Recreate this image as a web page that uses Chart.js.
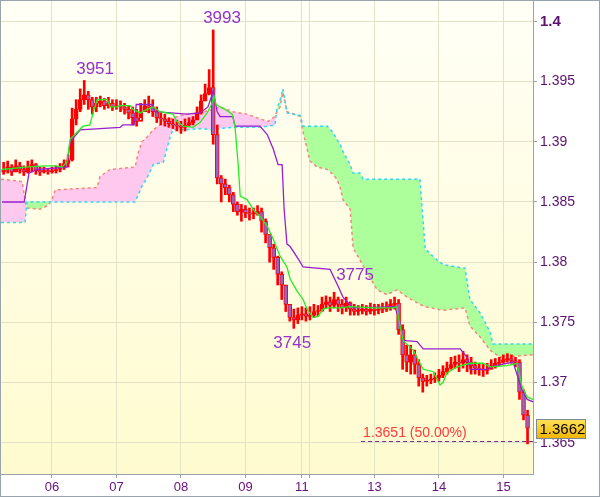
<!DOCTYPE html>
<html>
<head>
<meta charset="utf-8">
<script src="https://cdn.jsdelivr.net/npm/chart.js@4"></script>
<style>
  html, body { margin: 0; padding: 0; background: #fff; }
  canvas { display: block; }
</style>
</head>
<body>
<canvas id="ichimoku-chart" width="600" height="497"></canvas>
<script>
// hourly-ish candles, one per bar index
const firstOpen = 1.3875;
const closes = [
  1.3877,1.3879,1.3875,1.3880,1.3877,1.3875,1.3879,1.3881,1.3876,1.3875,
  1.3876,1.3875,1.3876,1.3877,1.3879,1.3882,1.3885,1.3919,1.3927,1.3935,
  1.3939,1.3935,1.3929,1.3932,1.3934,1.3930,1.3932,1.3929,1.3930,1.3929,
  1.3927,1.3924,1.3920,1.3917,1.3925,1.3930,1.3929,1.3925,1.3920,1.3919,
  1.3917,1.3915,1.3914,1.3913,1.3912,1.3914,1.3916,1.3918,1.3924,1.3934,
  1.3940,1.3945,1.3906,1.3870,1.3865,1.3862,1.3856,1.3848,1.3842,1.3844,
  1.3841,1.3840,1.3840,1.3842,1.3834,1.3823,1.3812,1.3804,1.3790,1.3781,
  1.3765,1.3754,1.3752,1.3756,1.3757,1.3755,1.3756,1.3759,1.3759,1.3765,
  1.3767,1.3764,1.3769,1.3765,1.3762,1.3766,1.3761,1.3759,1.3760,1.3761,
  1.3759,1.3761,1.3760,1.3761,1.3761,1.3762,1.3765,1.3766,1.3744,1.3723,
  1.3717,1.3723,1.3715,1.3704,1.3701,1.3702,1.3703,1.3704,1.3706,1.3709,
  1.3712,1.3715,1.3717,1.3716,1.3719,1.3717,1.3714,1.3712,1.3711,1.3710,
  1.3711,1.3714,1.3716,1.3717,1.3719,1.3720,1.3718,1.3717,1.3692,1.3673,
  1.3662
];
const highs = [
  1.3883,1.3884,1.3881,1.3885,1.3883,1.3880,1.3884,1.3885,1.3882,1.3879,
  1.3879,1.3878,1.3879,1.3880,1.3882,1.3885,1.3889,1.3928,1.3935,1.3944,
  1.3951,1.3942,1.3937,1.3937,1.3938,1.3936,1.3937,1.3935,1.3935,1.3934,
  1.3932,1.3930,1.3929,1.3927,1.3932,1.3935,1.3938,1.3935,1.3929,1.3924,
  1.3923,1.3920,1.3919,1.3918,1.3917,1.3919,1.3920,1.3921,1.3929,1.3939,
  1.3948,1.3960,1.3993,1.3914,1.3872,1.3869,1.3864,1.3858,1.3850,1.3848,
  1.3847,1.3845,1.3845,1.3847,1.3845,1.3836,1.3823,1.3815,1.3805,1.3792,
  1.3781,1.3765,1.3761,1.3762,1.3763,1.3762,1.3763,1.3765,1.3764,1.3771,
  1.3772,1.3771,1.3775,1.3771,1.3769,1.3771,1.3767,1.3765,1.3764,1.3765,
  1.3764,1.3766,1.3765,1.3765,1.3766,1.3767,1.3769,1.3771,1.3769,1.3748,
  1.3731,1.3731,1.3727,1.3719,1.3707,1.3706,1.3707,1.3708,1.3711,1.3714,
  1.3717,1.3721,1.3722,1.3723,1.3726,1.3723,1.3721,1.3717,1.3716,1.3715,
  1.3716,1.3719,1.3720,1.3721,1.3723,1.3724,1.3723,1.3721,1.3719,1.3694,
  1.3677
];
const lows = [
  1.3873,1.3874,1.3872,1.3875,1.3874,1.3872,1.3874,1.3875,1.3873,1.3872,
  1.3874,1.3873,1.3874,1.3874,1.3875,1.3877,1.3879,1.3884,1.3914,1.3925,
  1.3931,1.3927,1.3923,1.3925,1.3929,1.3927,1.3928,1.3926,1.3927,1.3925,
  1.3923,1.3919,1.3914,1.3913,1.3920,1.3925,1.3924,1.3921,1.3916,1.3914,
  1.3913,1.3912,1.3911,1.3909,1.3907,1.3909,1.3913,1.3914,1.3919,1.3923,
  1.3934,1.3939,1.3898,1.3865,1.3850,1.3856,1.3850,1.3842,1.3839,1.3834,
  1.3837,1.3835,1.3836,1.3839,1.3825,1.3816,1.3800,1.3794,1.3781,1.3769,
  1.3759,1.3751,1.3745,1.3749,1.3752,1.3751,1.3752,1.3754,1.3755,1.3761,
  1.3762,1.3759,1.3762,1.3759,1.3757,1.3759,1.3756,1.3756,1.3756,1.3757,
  1.3756,1.3757,1.3756,1.3757,1.3758,1.3759,1.3760,1.3761,1.3740,1.3711,
  1.3709,1.3707,1.3707,1.3697,1.3692,1.3697,1.3699,1.3700,1.3701,1.3704,
  1.3707,1.3711,1.3712,1.3709,1.3712,1.3709,1.3707,1.3707,1.3706,1.3705,
  1.3707,1.3711,1.3712,1.3714,1.3716,1.3717,1.3716,1.3713,1.3686,1.3669,
  1.3649
];

// ichimoku cloud (senkou span A / B), read at shared bar positions
const cloudX = [
  -0.65,4.6,5.3,5.6,5.8,9.0,11.0,12.0,12.8,23.2,
  23.9,26.4,32.6,33.4,34.3,35.6,37.1,39.6,41.3,42.0,
  45.5,48.7,52.0,53.7,56.9,60.4,63.6,65.6,67.3,67.8,
  68.6,69.3,70.3,73.6,74.3,76.0,77.8,80.3,81.7,82.7,
  83.5,84.2,86.0,86.7,87.2,88.4,89.2,90.4,92.7,95.1,
  97.6,100.1,103.3,104.6,107.5,109.0,114.5,115.7,118.2,120.7,
  121.4,123.2,127.4,131.35
];
const senkouA = [
  1.3869,1.3867,1.3852,1.3847,1.3845,1.3844,1.3847,1.3852,1.3860,1.3862,
  1.3871,1.3877,1.3879,1.3891,1.3900,1.3904,1.3910,1.3916,1.3919,1.3920,
  1.3923,1.3924,1.3927,1.3929,1.3925,1.3923,1.3919,1.3917,1.3921,1.3925,
  1.3929,1.3941,1.3925,1.3921,1.3908,1.3884,1.3879,1.3877,1.3873,1.3869,
  1.3862,1.3852,1.3844,1.3812,1.3809,1.3802,1.3797,1.3790,1.3777,1.3773,
  1.3777,1.3771,1.3765,1.3763,1.3761,1.3760,1.3762,1.3747,1.3738,1.3727,
  1.3725,1.3721,1.3722,1.3723
];
const senkouB = [
  1.3833,1.3833,1.3833,1.3844,1.3850,1.3850,1.3850,1.3850,1.3850,1.3850,
  1.3850,1.3850,1.3850,1.3856,1.3863,1.3870,1.3881,1.3883,1.3904,1.3910,
  1.3910,1.3911,1.3910,1.3911,1.3912,1.3912,1.3912,1.3913,1.3914,1.3927,
  1.3935,1.3944,1.3924,1.3922,1.3913,1.3913,1.3913,1.3913,1.3908,1.3902,
  1.3898,1.3892,1.3881,1.3874,1.3874,1.3874,1.3869,1.3869,1.3869,1.3869,
  1.3869,1.3869,1.3869,1.3811,1.3802,1.3798,1.3795,1.3769,1.3758,1.3742,
  1.3732,1.3732,1.3732,1.3732
];

// tenkan-sen (green) vertices
const tenkanX = [
  -0.4,5.3,10.3,12.8,14.5,15.7,16.5,18.2,19.7,21.4,
  22.2,23.2,25.7,26.4,28.1,28.9,31.4,32.1,33.9,35.6,
  37.1,38.8,42.0,43.0,44.5,47.0,48.7,50.5,51.7,52.2,
  52.7,54.9,56.7,57.4,58.2,58.7,60.4,61.9,63.6,65.4,
  66.9,68.6,70.3,71.1,72.8,74.3,75.3,76.8,78.0,79.3,
  80.5,83.5,86.0,91.7,96.6,97.6,97.9,99.1,101.6,104.1,
  106.6,108.3,109.0,110.0,112.5,115.7,119.0,120.7,124.9,127.4,
  128.6,129.9,131.35
];
const tenkan = [
  1.3877,1.3879,1.3880,1.3880,1.3879,1.3883,1.3902,1.3908,1.3913,1.3914,
  1.3924,1.3935,1.3935,1.3929,1.3929,1.3930,1.3930,1.3927,1.3924,1.3927,
  1.3929,1.3925,1.3923,1.3917,1.3913,1.3912,1.3916,1.3924,1.3932,1.3938,
  1.3931,1.3927,1.3923,1.3913,1.3881,1.3855,1.3852,1.3844,1.3838,1.3830,
  1.3819,1.3805,1.3796,1.3786,1.3776,1.3769,1.3761,1.3754,1.3755,1.3761,
  1.3762,1.3762,1.3763,1.3762,1.3762,1.3763,1.3755,1.3735,1.3727,1.3711,
  1.3709,1.3698,1.3700,1.3708,1.3713,1.3716,1.3716,1.3713,1.3714,1.3716,
  1.3697,1.3688,1.3686
];

// kijun-sen (purple) vertices
const kijunX = [
  -0.4,5.1,5.8,6.3,8.3,15.7,16.5,19.0,28.9,29.6,
  32.4,32.9,36.8,37.6,45.5,48.7,50.7,52.0,53.0,53.7,
  56.9,57.4,63.6,65.4,66.9,68.1,69.1,69.6,70.3,71.1,
  73.6,74.3,81.0,83.0,84.2,86.7,97.1,98.4,99.1,102.6,
  104.1,113.3,115.2,115.7,120.0,120.7,126.4,128.6,129.9,131.35
];
const kijun = [
  1.3850,1.3850,1.3864,1.3874,1.3877,1.3879,1.3900,1.3910,1.3912,1.3914,
  1.3914,1.3931,1.3931,1.3925,1.3923,1.3924,1.3929,1.3942,1.3925,1.3921,
  1.3921,1.3913,1.3913,1.3906,1.3894,1.3881,1.3881,1.3844,1.3815,1.3813,
  1.3800,1.3796,1.3794,1.3780,1.3771,1.3762,1.3763,1.3749,1.3735,1.3734,
  1.3728,1.3728,1.3720,1.3711,1.3711,1.3713,1.3717,1.3694,1.3686,1.3684
];

// axis ticks
const dayTicks = [12, 28, 44, 60, 74, 76, 92, 108, 124];
const dayLabels = ['06', '07', '08', '09', '11', '', '13', '14', '15'];
const priceTicks = [1.365, 1.37, 1.375, 1.38, 1.385, 1.39, 1.395, 1.4];
const priceLabels = ['1.365', '1.37', '1.375', '1.38', '1.385', '1.39', '1.395', '1.4'];

// extremes and the 50% retracement
const extremeLabels = ['3951', '3993', '3745', '3775'];
const extremeBars = [22.7, 54.2, 71.6, 87.2];
const extremePrices = [1.3951, 1.3993, 1.3745, 1.3775];
const fiftyLevel = 1.3651;
const fiftyFrom = 88.7;
const lastPrice = 1.3662;

const FONT = "Arial, 'Liberation Sans', sans-serif";
const AXIS_GREY = '#98a3ab';

const opens = closes.map((c, i) => i === 0 ? firstOpen : closes[i - 1]);
const pts = (xs, ys) => xs.map((x, i) => ({ x: x, y: ys[i] }));

const chartDecor = {
  id: 'chartDecor',
  beforeDraw(chart) {
    const { ctx, chartArea: a } = chart;
    ctx.save();
    const g = ctx.createLinearGradient(0, a.top, 0, a.bottom);
    g.addColorStop(0, '#fffff6');
    g.addColorStop(1, '#fffbcf');
    ctx.fillStyle = g;
    ctx.fillRect(a.left, a.top, a.right - a.left, a.bottom - a.top);
    ctx.restore();
  },
  afterDraw(chart) {
    const { ctx, chartArea: a, scales } = chart;
    const xs = scales.x, ys = scales.y;
    ctx.save();
    // extreme labels
    ctx.font = '17px ' + FONT;
    ctx.fillStyle = '#9433cc';
    ctx.textAlign = 'center';
    extremeLabels.forEach((t, i) => {
      const px = xs.getPixelForValue(extremeBars[i]);
      const py = ys.getPixelForValue(extremePrices[i]);
      if (i === 2) {
        ctx.textBaseline = 'top';
        ctx.fillText(t, px, py + 6);
      } else {
        ctx.textBaseline = 'bottom';
        ctx.fillText(t, px, py - (i === 3 ? 8 : 3));
      }
    });
    // 50% text
    ctx.font = '14px ' + FONT;
    ctx.fillStyle = '#ff3b3b';
    ctx.textAlign = 'left';
    ctx.textBaseline = 'bottom';
    ctx.fillText(fiftyLevel.toFixed(4) + ' (50.00%)', xs.getPixelForValue(fiftyFrom) + 2, ys.getPixelForValue(fiftyLevel) - 1);
    // last price box
    const cy = Math.round(ys.getPixelForValue(lastPrice)) + 1;
    const bx = a.right + 3.5, bw = 49, bh = 19, by = cy - 9.5;
    const bg = ctx.createLinearGradient(0, by, 0, by + bh);
    bg.addColorStop(0, '#ffe35a');
    bg.addColorStop(1, '#f0b400');
    ctx.fillStyle = bg;
    ctx.fillRect(bx, by, bw, bh);
    ctx.strokeStyle = '#7d8a96';
    ctx.lineWidth = 1;
    ctx.strokeRect(bx, by, bw, bh);
    ctx.fillStyle = '#000';
    ctx.font = '15px ' + FONT;
    ctx.textBaseline = 'middle';
    ctx.fillText(lastPrice.toFixed(4), bx + 3, cy + 1);
    // outer frame
    ctx.strokeStyle = AXIS_GREY;
    ctx.strokeRect(0.5, 0.5, chart.width - 1, chart.height - 1);
    ctx.restore();
  }
};

const ctx = document.getElementById('ichimoku-chart').getContext('2d');
const ichimokuChart = new Chart(ctx, {
  type: 'bar',
  data: {
    datasets: [
      {
        type: 'line',
        label: 'Senkou A',
        data: pts(cloudX, senkouA),
        borderColor: '#f7867c',
        borderWidth: 1.5,
        borderDash: [3, 3],
        pointRadius: 0,
        tension: 0,
        fill: { target: 1, above: '#ffc8ee', below: '#adff9c' },
        order: 10
      },
      {
        type: 'line',
        label: 'Senkou B',
        data: pts(cloudX, senkouB),
        borderColor: '#2fd9ee',
        borderWidth: 1.5,
        borderDash: [3, 3],
        pointRadius: 0,
        tension: 0,
        fill: false,
        order: 9
      },
      {
        label: 'Wick',
        data: closes.map((c, i) => ({ x: i, y: [lows[i], highs[i]] })),
        backgroundColor: '#ff0000',
        borderWidth: 0,
        barThickness: 2,
        grouped: false,
        order: 6
      },
      {
        label: 'Body',
        data: closes.map((c, i) => ({ x: i, y: [opens[i], c] })),
        backgroundColor: closes.map((c, i) => c < opens[i] ? '#9a62c2' : 'rgba(255,255,255,0)'),
        borderColor: '#ff0000',
        borderWidth: 1,
        borderSkipped: false,
        barThickness: 4,
        minBarLength: 1,
        grouped: false,
        order: 5
      },
      {
        type: 'line',
        label: 'Kijun',
        data: pts(kijunX, kijun),
        borderColor: '#9a1fcf',
        borderWidth: 1.3,
        pointRadius: 0,
        tension: 0,
        fill: false,
        order: 3
      },
      {
        type: 'line',
        label: 'Tenkan',
        data: pts(tenkanX, tenkan),
        borderColor: '#22ee22',
        borderWidth: 1.3,
        pointRadius: 0,
        tension: 0,
        fill: false,
        order: 2
      },
      {
        type: 'line',
        label: '50%',
        data: [{ x: fiftyFrom, y: fiftyLevel }, { x: 131.35, y: fiftyLevel }],
        borderColor: '#7a2a9a',
        borderWidth: 1.2,
        borderDash: [4, 3],
        pointRadius: 0,
        fill: false,
        order: 1
      }
    ]
  },
  options: {
    responsive: false,
    animation: false,
    events: [],
    layout: { padding: { left: 1, top: 1, right: 0, bottom: 0 } },
    plugins: {
      legend: { display: false },
      tooltip: { enabled: false }
    },
    scales: {
      x: {
        type: 'linear',
        min: -0.65,
        max: 131.35,
        offset: false,
        afterBuildTicks: (scale) => { scale.ticks = dayTicks.map(v => ({ value: v })); },
        afterFit: (scale) => {
          scale.height = 23;
          scale.paddingLeft = 0;
          scale.paddingRight = 0;
        },
        grid: { color: '#e2e2c6', offset: false, tickLength: 4, tickColor: AXIS_GREY },
        border: { color: AXIS_GREY },
        ticks: {
          autoSkip: false,
          maxRotation: 0,
          padding: 2,
          color: '#6a1480',
          font: { family: FONT, size: 13 },
          callback: (v) => dayLabels[dayTicks.indexOf(v)] ?? ''
        }
      },
      y: {
        type: 'linear',
        position: 'right',
        min: 1.3624,
        max: 1.4017,
        afterBuildTicks: (scale) => { scale.ticks = priceTicks.map(v => ({ value: v })); },
        afterFit: (scale) => {
          scale.width = 67;
          scale.paddingTop = 0;
          scale.paddingBottom = 0;
        },
        grid: { color: '#e2e2c6', tickLength: 4, tickColor: AXIS_GREY },
        border: { color: AXIS_GREY },
        ticks: {
          padding: 3,
          color: '#5c1070',
          font: (c) => ({
            family: FONT,
            size: c.tick && c.tick.value === 1.4 ? 15 : 14,
            weight: c.tick && c.tick.value === 1.4 ? 'bold' : 'normal'
          }),
          callback: (v) => priceLabels[priceTicks.indexOf(v)] ?? ''
        }
      }
    }
  },
  plugins: [chartDecor]
});
</script>
</body>
</html>
